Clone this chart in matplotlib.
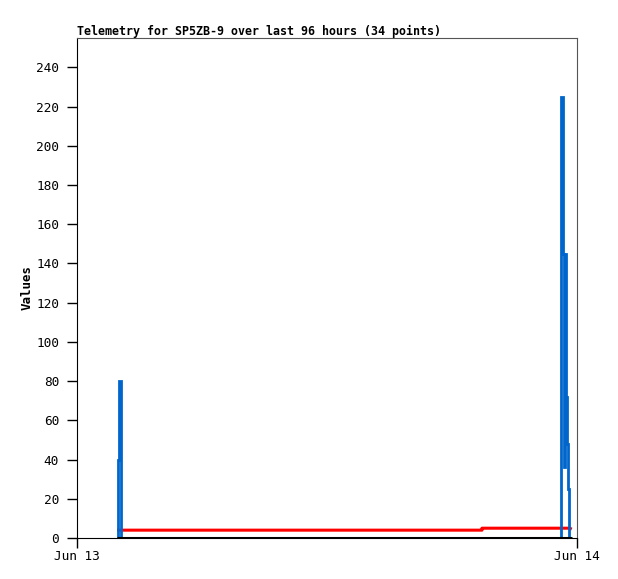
import matplotlib
matplotlib.use("Agg")
import matplotlib.pyplot as plt
import matplotlib.dates as mdates
import pandas as pd

# --- Data (hours after Jun 13 00:00) ---
# left burst
blue1_hours = [1.95, 1.97, 2.01, 2.09, 2.13]
blue1_vals = [0, 40, 80, 25, 0]
# right burst
blue2_hours = [23.21, 23.23, 23.33, 23.37, 23.40, 23.47, 23.52, 23.57, 23.62]
blue2_vals = [0, 225, 145, 36, 145, 72, 48, 25, 0]

red_hours = [1.92, 19.44, 19.44, 23.65, 23.75]
red_vals = [4.0, 4.0, 5.0, 5.0, 4.5]

zero_hours = [1.92, 23.75]
zero_vals = [0, 0]

start = pd.Timestamp("2023-06-13")
def to_time(hours):
    return [start + pd.Timedelta(hours=h) for h in hours]

title = "Telemetry for SP5ZB-9 over last 96 hours (34 points)"
mono = "DejaVu Sans Mono"

# --- Plotting ---
fig = plt.figure(figsize=(6.18, 5.79), dpi=100)
ax = fig.add_axes([77 / 618, 41 / 579, 500 / 618, 500 / 579])

ax.plot(to_time(red_hours), red_vals, color="#ff0000", lw=2.2, solid_capstyle="butt")
for hrs, vals in [(blue1_hours, blue1_vals), (blue2_hours, blue2_vals)]:
    ax.plot(to_time(hrs), vals, color="#0066cc", lw=2.0, drawstyle="steps-post",
            solid_capstyle="butt", solid_joinstyle="miter")
ax.plot(to_time(zero_hours), zero_vals, color="black", lw=2.2, solid_capstyle="butt")

ax.set_xlim(start, start + pd.Timedelta(hours=24))
ax.set_ylim(0, 255)
ax.set_yticks(range(0, 241, 20))
ax.xaxis.set_major_locator(mdates.DayLocator())
ax.xaxis.set_major_formatter(mdates.DateFormatter("%b %d"))

ax.tick_params(direction="out", length=7, width=1, labelsize=9.2)
ax.tick_params(axis="y", pad=6)
ax.tick_params(axis="x", pad=2)
for lab in ax.get_xticklabels() + ax.get_yticklabels():
    lab.set_family(mono)

for side in ["top", "right"]:
    ax.spines[side].set_color("#555555")
ax.spines["left"].set_color("black")
ax.spines["bottom"].set_color("black")

ax.set_ylabel("Values", family=mono, fontweight="bold", fontsize=9, labelpad=2)
ax.set_title(title, family=mono, fontweight="bold", fontsize=8.4, loc="left", pad=2)

fig.savefig("out.png", dpi=100)
